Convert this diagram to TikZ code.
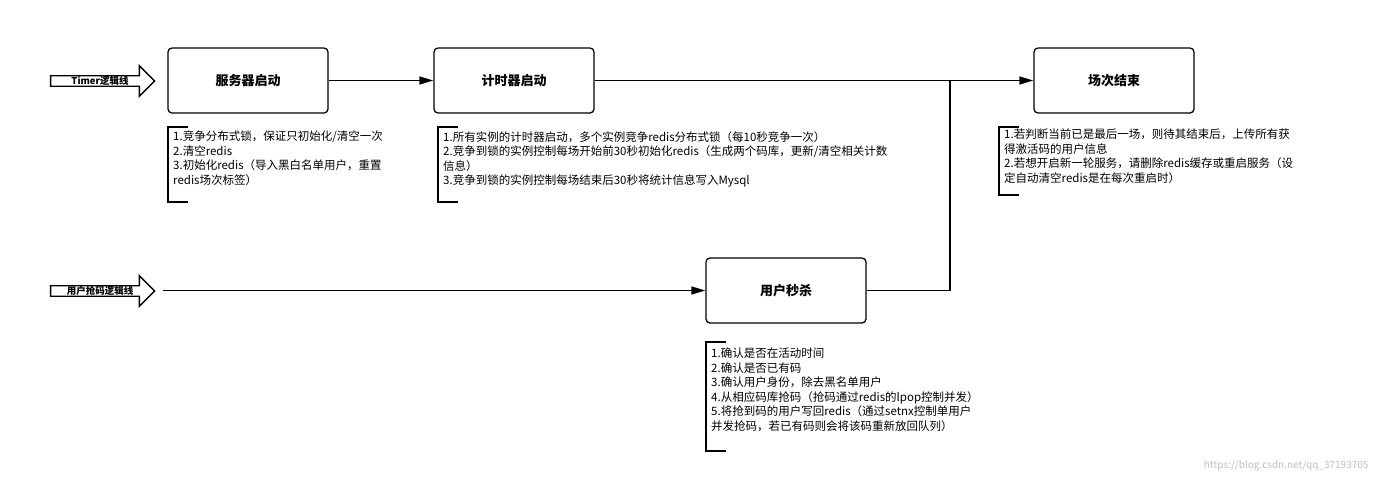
\documentclass[tikz,border=0pt]{standalone}
\usepackage{fontspec}
\setmainfont{Noto Sans CJK SC}
\usetikzlibrary{arrows.meta,shapes.arrows}
\begin{document}
\begin{tikzpicture}[x=1pt,y=-1pt,
  box/.style={draw,line width=1.3pt,rounded corners=4pt,minimum width=160pt,minimum height=65pt,font=\bfseries\fontsize{13}{15}\selectfont},
  note/.style={anchor=north west,align=left,inner sep=0pt,font=\fontsize{11.5}{14.5}\selectfont},
  brk/.style={line width=1.3pt},
  arr/.style={line width=1.3pt,-{Triangle[length=14pt,width=8pt]}},
  bigarr/.style={draw,line width=1.3pt,single arrow,single arrow head extend=10pt,single arrow tip angle=90,minimum height=104pt,minimum width=18pt,inner sep=0pt,font=\bfseries\fontsize{9.5}{11}\selectfont}]
\useasboundingbox (0,0) rectangle (1381,483);
\node[box] (s) at (248,80.5) {服务器启动};
\node[box] (t) at (514,80.5) {计时器启动};
\node[box] (e) at (1114,80.5) {场次结束};
\node[box] (u) at (786,290.5) {用户秒杀};
\node[bigarr,minimum width=20pt] (ta) at (100,81) {Timer逻辑线\hspace{12pt}};
\node[bigarr,minimum width=20pt] (ua) at (100,291) {用户抢码逻辑线\hspace{10pt}};
\coordinate (j) at (950,80.5);
\coordinate (ustart) at (163,290.5);
\draw[arr] (s) -- (t);
\draw[arr] (t) -- (e);
\draw[line width=1.3pt] (u.east) -| (j);
\draw[arr] (ustart) -- (u);
% notes
\draw[brk] (188,127) -| (168,202) -- (188,202);
\node[note] (n1) at (173,131) {1.竞争分布式锁，保证只初始化/清空一次\\2.清空redis\\3.初始化redis（导入黑白名单用户，重置\\redis场次标签）};
\draw[brk] (458,127) -| (438,202) -- (458,202);
\node[note] (n2) at (443,131) {1.所有实例的计时器启动，多个实例竞争redis分布式锁（每10秒竞争一次）\\2.竞争到锁的实例控制每场开始前30秒初始化redis（生成两个码库，更新/清空相关计数\\信息）\\3.竞争到锁的实例控制每场结束后30秒将统计信息写入Mysql};
\draw[brk] (1019,127) -| (999,195) -- (1019,195);
\node[note] (n3) at (1004,129) {1.若判断当前已是最后一场，则待其结束后，上传所有获\\得激活码的用户信息\\2.若想开启新一轮服务，请删除redis缓存或重启服务（设\\定自动清空redis是在每次重启时）};
\draw[brk] (726,342) -| (706,451) -- (726,451);
\node[note] (n4) at (711,348) {1.确认是否在活动时间\\2.确认是否已有码\\3.确认用户身份，除去黑名单用户\\4.从相应码库抢码（抢码通过redis的lpop控制并发）\\5.将抢到码的用户写回redis（通过setnx控制单用户\\并发抢码，若已有码则会将该码重新放回队列）};
\node[anchor=east,text=black!25,font=\fontsize{10}{12}\selectfont] (wm) at (1372,466) {https://blog.csdn.net/qq\_37193705};
\end{tikzpicture}
\end{document}
